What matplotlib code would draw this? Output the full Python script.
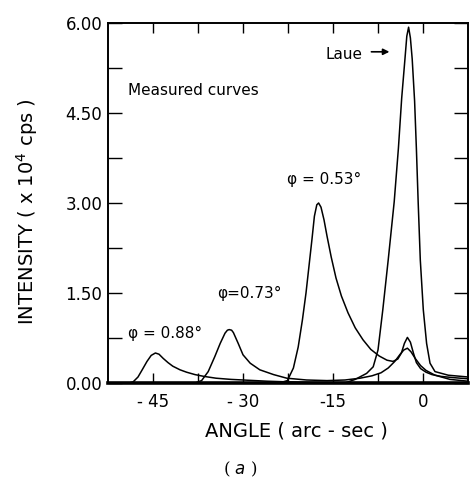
import numpy as np
import matplotlib.pyplot as plt
from matplotlib.ticker import MultipleLocator, FixedLocator

# Measured rocking curves (angle in arc-sec, intensity in 1e4 cps)
phi088_x = [-52.5, -49.0, -48.3, -47.5, -46.8, -46.0, -45.3, -44.6, -44.0, -43.3, -42.5, -41.7,
            -40.5, -39.4, -38.0, -36.5, -34.5, -32.0, -29.0, -26.0, -23.0, -18.0, -10.0, 0.0, 7.5]
phi088_y = [0.0, 0.0, 0.02, 0.10, 0.22, 0.36, 0.46, 0.50, 0.48, 0.41, 0.34, 0.28,
            0.22, 0.18, 0.14, 0.11, 0.08, 0.06, 0.045, 0.03, 0.02, 0.01, 0.005, 0.0, 0.0]

phi073_x = [-52.5, -38.0, -36.9, -35.8, -34.7, -33.8, -33.0, -32.6, -32.3, -31.9, -31.6, -30.8,
            -30.0, -28.8, -27.2, -24.9, -22.7, -19.4, -16.0, -13.0, -10.5, -8.5, -7.0, -5.8,
            -4.7, -3.8, -3.2, -2.6, -2.0, -1.3, -0.4, 0.5, 2.0, 4.5, 7.5]
phi073_y = [0.0, 0.0, 0.04, 0.19, 0.44, 0.66, 0.83, 0.88, 0.89, 0.88, 0.84, 0.66,
            0.47, 0.33, 0.22, 0.14, 0.08, 0.05, 0.04, 0.05, 0.08, 0.12, 0.17, 0.25,
            0.36, 0.48, 0.55, 0.58, 0.52, 0.41, 0.29, 0.21, 0.13, 0.06, 0.03]

phi053_x = [-52.5, -24.0, -22.6, -21.6, -20.8, -20.1, -19.5, -19.0, -18.5, -18.1, -17.7, -17.4,
            -17.0, -16.5, -16.0, -15.3, -14.5, -13.6, -12.5, -11.3, -10.0, -8.7, -7.3, -6.0,
            -5.0, -4.2, -3.6, -3.1, -2.6, -2.1, -1.6, -1.1, -0.4, 0.5, 1.5, 3.0, 5.0, 7.5]
phi053_y = [0.0, 0.0, 0.04, 0.25, 0.60, 1.05, 1.50, 1.95, 2.40, 2.78, 2.97, 3.00,
            2.93, 2.72, 2.45, 2.10, 1.75, 1.45, 1.17, 0.92, 0.72, 0.56, 0.45, 0.38,
            0.36, 0.40, 0.50, 0.66, 0.76, 0.68, 0.50, 0.34, 0.24, 0.18, 0.14, 0.11, 0.09, 0.07]

laue_x = [-52.5, -13.0, -11.3, -9.4, -8.3, -7.5, -6.7, -5.8, -4.8, -4.1, -3.55, -3.0, -2.7,
          -2.4, -2.1, -1.8, -1.4, -1.1, -0.8, -0.45, 0.05, 0.6, 1.17, 2.0, 4.2, 7.5]
laue_y = [0.0, 0.0, 0.06, 0.16, 0.27, 0.55, 1.22, 2.05, 3.02, 3.91, 4.75, 5.41, 5.78,
          5.93, 5.75, 5.40, 4.70, 3.90, 3.00, 2.05, 1.22, 0.66, 0.33, 0.19, 0.13, 0.10]

x_major = [-45, -30, -15, 0]
x_labels = ['- 45', '- 30', '-15', '0']
x_minor = [-37.5, -22.5, -7.5]
y_labels = ['0.00', '1.50', '3.00', '4.50', '6.00']

fig = plt.figure(figsize=(4.71, 4.80), dpi=100)
ax = fig.add_axes([108 / 471, 1 - 383 / 480, 360 / 471, 360 / 480])

for xs, ys in [(phi088_x, phi088_y), (phi073_x, phi073_y),
               (phi053_x, phi053_y), (laue_x, laue_y)]:
    ax.plot(xs, ys, color='black', lw=1.1, clip_on=False, solid_joinstyle='round')

ax.set_xlim(-52.5, 7.5)
ax.set_ylim(0, 6)

ax.xaxis.set_major_locator(FixedLocator(x_major))
ax.xaxis.set_minor_locator(FixedLocator(x_minor))
ax.set_xticklabels(x_labels)
ax.yaxis.set_major_locator(MultipleLocator(1.5))
ax.yaxis.set_minor_locator(MultipleLocator(0.75))
ax.set_yticks([0, 1.5, 3.0, 4.5, 6.0])
ax.set_yticklabels(y_labels)

ax.tick_params(axis='x', which='both', direction='in', top=True, length=7.5,
               width=1.0, pad=7, labelsize=12)
ax.tick_params(axis='y', which='both', direction='in', right=True, length=10,
               width=1.0, pad=4, labelsize=12)

for side in ['left', 'right', 'top']:
    ax.spines[side].set_linewidth(1.4)
ax.spines['bottom'].set_linewidth(2.6)

ax.text(-49.2, 4.88, 'Measured curves', fontsize=11, ha='left', va='center')
ax.text(-16.3, 5.47, 'Laue', fontsize=11, ha='left', va='center')
ax.annotate('', xy=(-5.6, 5.52), xytext=(-8.6, 5.52),
            arrowprops=dict(arrowstyle='-|>', color='black', lw=1.2,
                            mutation_scale=9, shrinkA=0, shrinkB=0))
ax.text(-22.7, 3.4, 'φ = 0.53°', fontsize=11, ha='left', va='center')
ax.text(-34.3, 1.49, 'φ=0.73°', fontsize=11, ha='left', va='center')
ax.text(-49.2, 0.82, 'φ = 0.88°', fontsize=11, ha='left', va='center')

fig.text(0.630, 0.102, 'ANGLE ( arc - sec )', fontsize=14, ha='center', va='center')
fig.text(0.057, 0.56, 'INTENSITY ( x 10$^{4}$ cps )', fontsize=14, rotation=90,
         ha='center', va='center')
fig.text(0.51, 0.022, '( $a$ )', fontsize=12, ha='center', va='center',
         family='DejaVu Serif')

fig.savefig('out.png', dpi=100)
